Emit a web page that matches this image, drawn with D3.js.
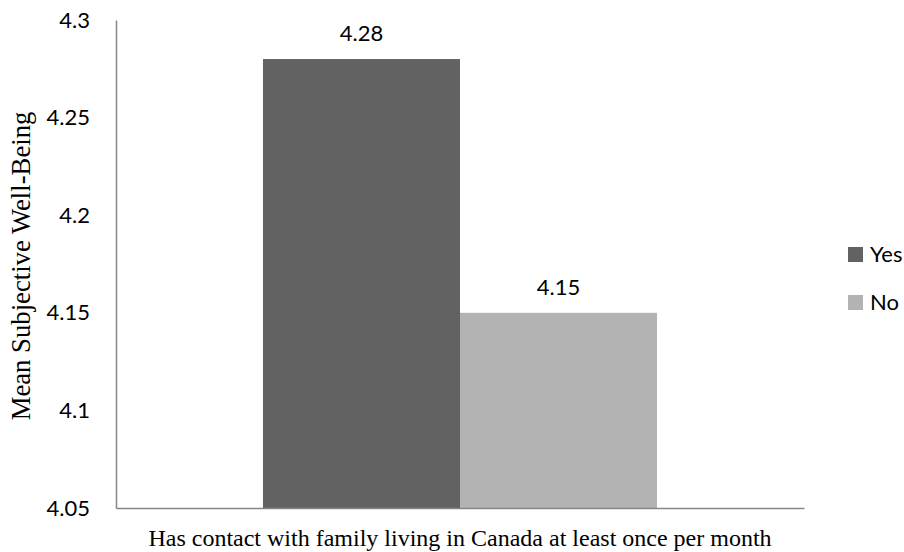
<!DOCTYPE html>
<html>
<head>
<meta charset="utf-8">
<script src="https://cdn.jsdelivr.net/npm/d3@7"></script>
<style>
  html, body { margin: 0; padding: 0; background: #fff; }
  svg { display: block; }
</style>
</head>
<body>
<svg id="chart" width="904" height="552"></svg>
<script>
// Mean subjective well-being by monthly family contact
const categories = ["Has contact with family living in Canada at least once per month"];
const seriesNames = ["Yes", "No"];
const seriesValues = [4.28, 4.15];
const seriesColors = ["#626262", "#b3b3b3"];
const yTicks = [4.05, 4.1, 4.15, 4.2, 4.25, 4.3];
const yTickLabels = ["4.05", "4.1", "4.15", "4.2", "4.25", "4.3"];

const svg = d3.select("#chart");
const plotLeft = 116, plotRight = 804, plotTop = 20, plotBottom = 508;

const y = d3.scaleLinear().domain([4.05, 4.3]).range([plotBottom, plotTop]);
const x0 = d3.scaleBand().domain(categories).range([plotLeft, plotRight]).paddingInner(0).paddingOuter(0.373);
const x1 = d3.scaleBand().domain(seriesNames).range([0, x0.bandwidth()]);

const numFont = "Lato, 'Open Sans', sans-serif";
const serif = "'Liberation Serif', 'Times New Roman', serif";
const numSize = 22;

// bars
const g = svg.append("g");
const rows = seriesNames.map((n, i) => ({ name: n, value: seriesValues[i], color: seriesColors[i], cat: categories[0] }));
g.selectAll("rect.bar")
  .data(rows)
  .join("rect")
  .attr("class", "bar")
  .attr("x", d => x0(d.cat) + x1(d.name))
  .attr("width", x1.bandwidth())
  .attr("y", d => y(d.value))
  .attr("height", d => plotBottom - y(d.value))
  .attr("fill", d => d.color);

// value labels
g.selectAll("text.val")
  .data(rows)
  .join("text")
  .attr("class", "val")
  .attr("x", d => x0(d.cat) + x1(d.name) + x1.bandwidth() / 2)
  .attr("y", d => y(d.value) - 26)
  .attr("dy", "0.36em")
  .attr("text-anchor", "middle")
  .attr("font-family", numFont)
  .attr("font-size", numSize)
  .attr("fill", "#000")
  .text(d => d.value.toFixed(2));

// y axis
const yAxis = d3.axisLeft(y).tickValues(yTicks).tickFormat((d, i) => yTickLabels[i]).tickSize(0).tickPadding(26);
const ya = svg.append("g").attr("transform", `translate(${plotLeft},0)`).call(yAxis);
ya.select(".domain").attr("stroke", "#868686").attr("stroke-width", 1.5);
ya.selectAll("text").attr("font-family", numFont).attr("font-size", numSize).attr("fill", "#000");

// x axis
const xAxis = d3.axisBottom(x0).tickSize(0).tickFormat(() => "");
const xa = svg.append("g").attr("transform", `translate(0,${plotBottom})`).call(xAxis);
xa.select(".domain").attr("stroke", "#868686").attr("stroke-width", 1.5);

// axis titles
svg.append("text")
  .attr("x", 460)
  .attr("y", 546)
  .attr("text-anchor", "middle")
  .attr("font-family", serif)
  .attr("font-size", 24)
  .attr("fill", "#000")
  .text(categories[0]);

svg.append("text")
  .attr("transform", `translate(30,266) rotate(-90)`)
  .attr("text-anchor", "middle")
  .attr("font-family", serif)
  .attr("font-size", 26.7)
  .attr("fill", "#000")
  .text("Mean Subjective Well-Being");

// legend
const lg = svg.append("g").attr("transform", "translate(848,247)");
const items = lg.selectAll("g").data(seriesNames).join("g")
  .attr("transform", (d, i) => `translate(0,${i * 48})`);
items.append("rect").attr("width", 15).attr("height", 15).attr("fill", (d, i) => seriesColors[i]);
items.append("text").attr("x", 22).attr("y", 7.5).attr("dy", "0.36em")
  .attr("font-family", numFont).attr("font-size", numSize).attr("fill", "#000").text(d => d);
</script>
</body>
</html>
